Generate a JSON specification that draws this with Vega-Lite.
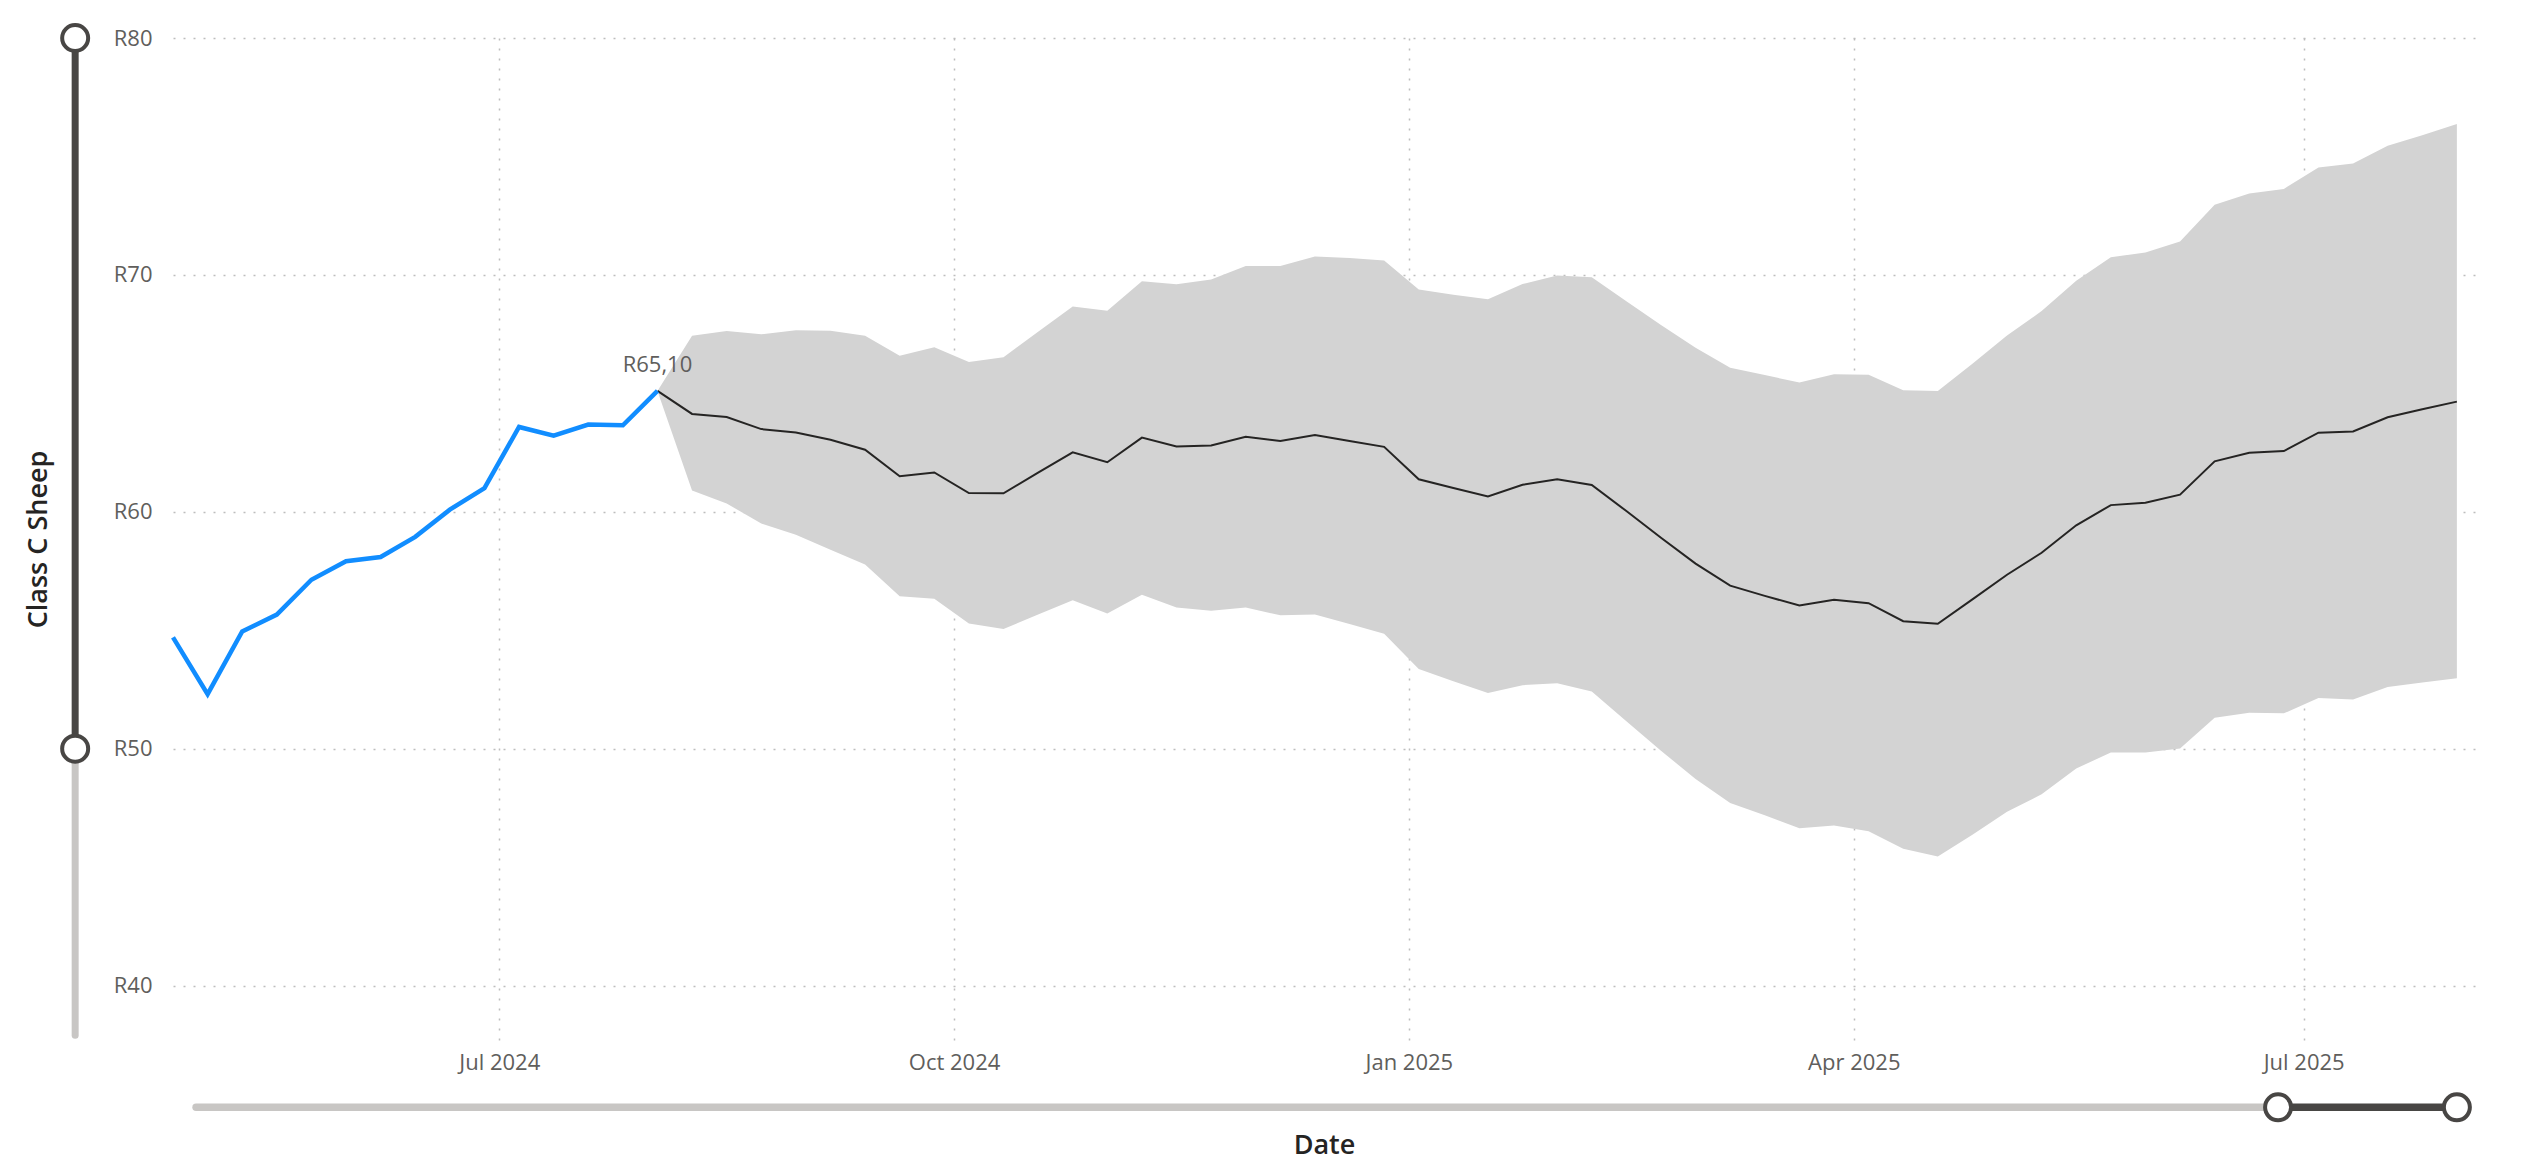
{
  "$schema": "https://vega.github.io/schema/vega-lite/v6.json",
  "width": 2302,
  "height": 1002,
  "autosize": {"type": "none"},
  "padding": {"left": 173, "top": 38, "right": 50, "bottom": 136},
  "background": "white",
  "datasets": {
    "actual": [
      {"date": "2024-04-26T00:00:00", "actual": 54.7},
      {"date": "2024-05-03T00:00:00", "actual": 52.3},
      {"date": "2024-05-10T00:00:00", "actual": 54.95},
      {"date": "2024-05-17T00:00:00", "actual": 55.66},
      {"date": "2024-05-24T00:00:00", "actual": 57.13},
      {"date": "2024-05-31T00:00:00", "actual": 57.91},
      {"date": "2024-06-07T00:00:00", "actual": 58.09},
      {"date": "2024-06-14T00:00:00", "actual": 58.94},
      {"date": "2024-06-21T00:00:00", "actual": 60.09},
      {"date": "2024-06-28T00:00:00", "actual": 61.0},
      {"date": "2024-07-05T00:00:00", "actual": 63.58},
      {"date": "2024-07-12T00:00:00", "actual": 63.21},
      {"date": "2024-07-19T00:00:00", "actual": 63.68},
      {"date": "2024-07-26T00:00:00", "actual": 63.65},
      {"date": "2024-08-02T00:00:00", "actual": 65.1}
    ],
    "forecast": [
      {"date": "2024-08-02T00:00:00", "forecast": 65.1, "lower": 65.1, "upper": 65.1},
      {"date": "2024-08-09T00:00:00", "forecast": 64.13, "lower": 60.9, "upper": 67.43},
      {"date": "2024-08-16T00:00:00", "forecast": 64.0, "lower": 60.35, "upper": 67.63},
      {"date": "2024-08-23T00:00:00", "forecast": 63.49, "lower": 59.5, "upper": 67.49},
      {"date": "2024-08-30T00:00:00", "forecast": 63.35, "lower": 59.03, "upper": 67.66},
      {"date": "2024-09-06T00:00:00", "forecast": 63.04, "lower": 58.4, "upper": 67.64},
      {"date": "2024-09-13T00:00:00", "forecast": 62.62, "lower": 57.77, "upper": 67.43},
      {"date": "2024-09-20T00:00:00", "forecast": 61.5, "lower": 56.43, "upper": 66.59},
      {"date": "2024-09-27T00:00:00", "forecast": 61.66, "lower": 56.33, "upper": 66.95},
      {"date": "2024-10-04T00:00:00", "forecast": 60.79, "lower": 55.28, "upper": 66.32},
      {"date": "2024-10-11T00:00:00", "forecast": 60.78, "lower": 55.05, "upper": 66.52},
      {"date": "2024-10-18T00:00:00", "forecast": 61.65, "lower": 55.66, "upper": 67.6},
      {"date": "2024-10-25T00:00:00", "forecast": 62.51, "lower": 56.26, "upper": 68.67},
      {"date": "2024-11-01T00:00:00", "forecast": 62.09, "lower": 55.7, "upper": 68.49},
      {"date": "2024-11-08T00:00:00", "forecast": 63.13, "lower": 56.5, "upper": 69.73},
      {"date": "2024-11-15T00:00:00", "forecast": 62.76, "lower": 55.96, "upper": 69.6},
      {"date": "2024-11-22T00:00:00", "forecast": 62.8, "lower": 55.82, "upper": 69.8},
      {"date": "2024-11-29T00:00:00", "forecast": 63.17, "lower": 55.96, "upper": 70.38},
      {"date": "2024-12-06T00:00:00", "forecast": 62.99, "lower": 55.63, "upper": 70.38},
      {"date": "2024-12-13T00:00:00", "forecast": 63.24, "lower": 55.66, "upper": 70.78},
      {"date": "2024-12-20T00:00:00", "forecast": 62.99, "lower": 55.26, "upper": 70.71},
      {"date": "2024-12-27T00:00:00", "forecast": 62.74, "lower": 54.85, "upper": 70.61},
      {"date": "2025-01-03T00:00:00", "forecast": 61.37, "lower": 53.36, "upper": 69.38},
      {"date": "2025-01-10T00:00:00", "forecast": 61.0, "lower": 52.84, "upper": 69.16},
      {"date": "2025-01-17T00:00:00", "forecast": 60.65, "lower": 52.35, "upper": 68.97},
      {"date": "2025-01-24T00:00:00", "forecast": 61.14, "lower": 52.68, "upper": 69.61},
      {"date": "2025-01-31T00:00:00", "forecast": 61.37, "lower": 52.76, "upper": 69.97},
      {"date": "2025-02-07T00:00:00", "forecast": 61.13, "lower": 52.41, "upper": 69.9},
      {"date": "2025-02-14T00:00:00", "forecast": 60.03, "lower": 51.16, "upper": 68.89},
      {"date": "2025-02-21T00:00:00", "forecast": 58.9, "lower": 49.91, "upper": 67.88},
      {"date": "2025-02-28T00:00:00", "forecast": 57.81, "lower": 48.72, "upper": 66.92},
      {"date": "2025-03-07T00:00:00", "forecast": 56.88, "lower": 47.7, "upper": 66.08},
      {"date": "2025-03-14T00:00:00", "forecast": 56.45, "lower": 47.19, "upper": 65.77},
      {"date": "2025-03-21T00:00:00", "forecast": 56.04, "lower": 46.64, "upper": 65.46},
      {"date": "2025-03-28T00:00:00", "forecast": 56.28, "lower": 46.75, "upper": 65.81},
      {"date": "2025-04-04T00:00:00", "forecast": 56.14, "lower": 46.51, "upper": 65.78},
      {"date": "2025-04-11T00:00:00", "forecast": 55.38, "lower": 45.77, "upper": 65.13},
      {"date": "2025-04-18T00:00:00", "forecast": 55.27, "lower": 45.45, "upper": 65.1},
      {"date": "2025-04-25T00:00:00", "forecast": 56.3, "lower": 46.37, "upper": 66.25},
      {"date": "2025-05-02T00:00:00", "forecast": 57.34, "lower": 47.34, "upper": 67.44},
      {"date": "2025-05-09T00:00:00", "forecast": 58.27, "lower": 48.07, "upper": 68.47},
      {"date": "2025-05-16T00:00:00", "forecast": 59.43, "lower": 49.16, "upper": 69.75},
      {"date": "2025-05-23T00:00:00", "forecast": 60.28, "lower": 49.84, "upper": 70.74},
      {"date": "2025-05-30T00:00:00", "forecast": 60.38, "lower": 49.84, "upper": 70.95},
      {"date": "2025-06-06T00:00:00", "forecast": 60.72, "lower": 50.01, "upper": 71.41},
      {"date": "2025-06-13T00:00:00", "forecast": 62.13, "lower": 51.3, "upper": 72.96},
      {"date": "2025-06-20T00:00:00", "forecast": 62.49, "lower": 51.51, "upper": 73.44},
      {"date": "2025-06-27T00:00:00", "forecast": 62.56, "lower": 51.49, "upper": 73.63},
      {"date": "2025-07-04T00:00:00", "forecast": 63.34, "lower": 52.14, "upper": 74.53},
      {"date": "2025-07-11T00:00:00", "forecast": 63.39, "lower": 52.07, "upper": 74.7},
      {"date": "2025-07-18T00:00:00", "forecast": 63.99, "lower": 52.6, "upper": 75.45},
      {"date": "2025-07-25T00:00:00", "forecast": 64.33, "lower": 52.79, "upper": 75.89},
      {"date": "2025-08-01T00:00:00", "forecast": 64.65, "lower": 52.97, "upper": 76.37}
    ]
  },
  "config": {
    "view": {"stroke": null},
    "locale": {
      "number": {"decimal": ",", "thousands": " ", "grouping": [3], "currency": ["R", ""]}
    },
    "axis": {
      "zindex": 1,
      "domain": false,
      "ticks": false,
      "grid": true,
      "gridDash": [2, 8],
      "gridColor": "#BDBDBD",
      "gridWidth": 1.5,
      "labelFont": "Open Sans",
      "labelFontSize": 22,
      "labelColor": "#605E5C",
      "titleFont": "Open Sans",
      "titleFontSize": 27,
      "titleFontWeight": 600,
      "titleColor": "#252423"
    }
  },
  "layer": [
    {
      "data": {"name": "forecast"},
      "mark": {"type": "area", "color": "#D3D3D3", "opacity": 1},
      "encoding": {
        "x": {
          "field": "date",
          "type": "temporal",
          "title": "Date",
          "scale": {
            "domain": [
              {"year": 2024, "month": 4, "date": 26},
              {"year": 2025, "month": 8, "date": 4, "hours": 16}
            ],
            "nice": false
          },
          "axis": {
            "values": [
              {"year": 2024, "month": 7, "date": 1},
              {"year": 2024, "month": 10, "date": 1},
              {"year": 2025, "month": 1, "date": 1},
              {"year": 2025, "month": 4, "date": 1},
              {"year": 2025, "month": 7, "date": 1}
            ],
            "format": "%b %Y",
            "labelPadding": 12,
            "titlePadding": 59,
            "labelOverlap": false
          }
        },
        "y": {
          "field": "lower",
          "type": "quantitative",
          "title": "Class C Sheep",
          "scale": {"domain": [37.7, 80], "nice": false, "zero": false},
          "axis": {
            "values": [40, 50, 60, 70, 80],
            "format": "$.0f",
            "labelPadding": 21,
            "titlePadding": 61
          }
        },
        "y2": {"field": "upper"}
      }
    },
    {
      "data": {"name": "forecast"},
      "mark": {"type": "line", "color": "#252423", "strokeWidth": 2},
      "encoding": {
        "x": {"field": "date", "type": "temporal", "title": "Date"},
        "y": {"field": "forecast", "type": "quantitative", "title": "Class C Sheep"}
      }
    },
    {
      "data": {"name": "actual"},
      "mark": {"type": "line", "color": "#118DFF", "strokeWidth": 4.5},
      "encoding": {
        "x": {"field": "date", "type": "temporal", "title": "Date"},
        "y": {"field": "actual", "type": "quantitative", "title": "Class C Sheep"}
      }
    },
    {
      "data": {"name": "actual"},
      "transform": [
        {"joinaggregate": [{"op": "max", "field": "date", "as": "lastDate"}]},
        {"filter": "time(datum.date) === time(datum.lastDate)"}
      ],
      "mark": {
        "type": "text",
        "dy": -19,
        "baseline": "alphabetic",
        "align": "center",
        "font": "Open Sans",
        "fontSize": 22,
        "color": "#605E5C"
      },
      "encoding": {
        "x": {"field": "date", "type": "temporal", "title": "Date"},
        "y": {"field": "actual", "type": "quantitative", "title": "Class C Sheep"},
        "text": {"field": "actual", "type": "quantitative", "format": "$.2f"}
      }
    },
    {
      "data": {"values": [{}]},
      "mark": {"type": "rule", "color": "#C8C6C4", "strokeWidth": 7, "strokeCap": "round"},
      "encoding": {
        "x": {"datum": {"year": 2024, "month": 4, "date": 6, "hours": 5}, "type": "temporal"},
        "y": {"datum": 37.9, "type": "quantitative"},
        "y2": {"datum": 50}
      }
    },
    {
      "data": {"values": [{}]},
      "mark": {"type": "rule", "color": "#484644", "strokeWidth": 7, "strokeCap": "round"},
      "encoding": {
        "x": {"datum": {"year": 2024, "month": 4, "date": 6, "hours": 5}, "type": "temporal"},
        "y": {"datum": 50, "type": "quantitative"},
        "y2": {"datum": 80}
      }
    },
    {
      "data": {"values": [{}]},
      "mark": {"type": "point", "shape": "circle", "filled": true, "fill": "white", "stroke": "#484644", "strokeWidth": 4, "size": 676, "opacity": 1},
      "encoding": {
        "x": {"datum": {"year": 2024, "month": 4, "date": 6, "hours": 5}, "type": "temporal"},
        "y": {"datum": 80, "type": "quantitative"}
      }
    },
    {
      "data": {"values": [{}]},
      "mark": {"type": "point", "shape": "circle", "filled": true, "fill": "white", "stroke": "#484644", "strokeWidth": 4, "size": 676, "opacity": 1},
      "encoding": {
        "x": {"datum": {"year": 2024, "month": 4, "date": 6, "hours": 5}, "type": "temporal"},
        "y": {"datum": 50, "type": "quantitative"}
      }
    },
    {
      "data": {"values": [{}]},
      "mark": {"type": "rule", "color": "#C8C6C4", "strokeWidth": 7.5, "strokeCap": "round"},
      "encoding": {
        "x": {"datum": {"year": 2024, "month": 4, "date": 30, "hours": 16}, "type": "temporal"},
        "x2": {"datum": {"year": 2025, "month": 6, "date": 25, "hours": 20}},
        "y": {"datum": 34.86, "type": "quantitative"}
      }
    },
    {
      "data": {"values": [{}]},
      "mark": {"type": "rule", "color": "#484644", "strokeWidth": 7.5, "strokeCap": "round"},
      "encoding": {
        "x": {"datum": {"year": 2025, "month": 6, "date": 25, "hours": 20}, "type": "temporal"},
        "x2": {"datum": {"year": 2025, "month": 8, "date": 1}},
        "y": {"datum": 34.86, "type": "quantitative"}
      }
    },
    {
      "data": {"values": [{}]},
      "mark": {"type": "point", "shape": "circle", "filled": true, "fill": "white", "stroke": "#484644", "strokeWidth": 4, "size": 676, "opacity": 1},
      "encoding": {
        "x": {"datum": {"year": 2025, "month": 6, "date": 25, "hours": 20}, "type": "temporal"},
        "y": {"datum": 34.86, "type": "quantitative"}
      }
    },
    {
      "data": {"values": [{}]},
      "mark": {"type": "point", "shape": "circle", "filled": true, "fill": "white", "stroke": "#484644", "strokeWidth": 4, "size": 676, "opacity": 1},
      "encoding": {
        "x": {"datum": {"year": 2025, "month": 8, "date": 1}, "type": "temporal"},
        "y": {"datum": 34.86, "type": "quantitative"}
      }
    }
  ]
}
